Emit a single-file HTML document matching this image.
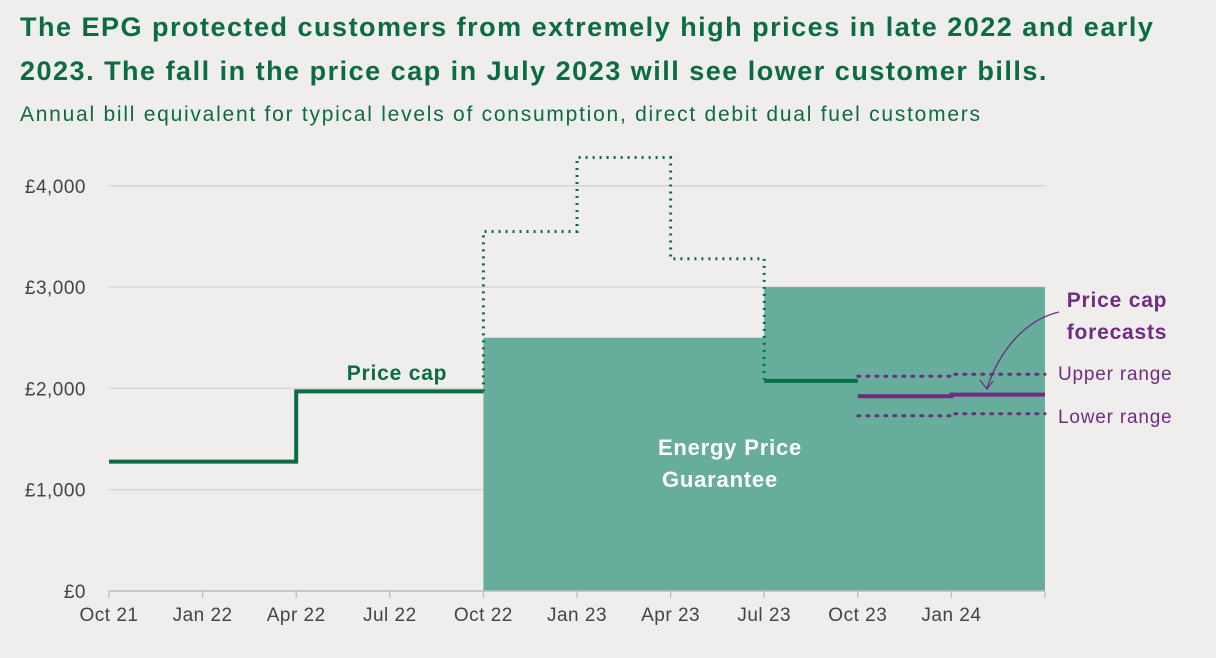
<!DOCTYPE html>
<html><head><meta charset="utf-8"><style>
body{margin:0;background:#efeeec;width:1216px;height:658px;overflow:hidden;font-family:"Liberation Sans",sans-serif}
.t{position:absolute;left:20px;color:#0b6b45;font-weight:bold;font-size:27px;letter-spacing:1.5px;line-height:44px;top:5px;margin:0;width:1200px;white-space:nowrap}
.s{position:absolute;left:20px;top:103px;color:#0b6b45;font-size:21px;letter-spacing:1.75px;white-space:nowrap}
</style></head><body>
<h1 class="t">The EPG protected customers from extremely high prices in late 2022 and early<br>2023. The fall in the price cap in July 2023 will see lower customer bills.</h1>
<div class="s">Annual bill equivalent for typical levels of consumption, direct debit dual fuel customers</div>
<svg id="c" width="1216" height="658" style="position:absolute;left:0;top:0"></svg>
<script>
const quarters=["Oct 21","Jan 22","Apr 22","Jul 22","Oct 22","Jan 23","Apr 23","Jul 23","Oct 23","Jan 24",""];
const yTicks=[0,1000,2000,3000,4000];
const yTickLabels=["£0","£1,000","£2,000","£3,000","£4,000"];
const capSolid=[1277,1277,1971,1971];
const capDotted=[3549,4279,3280];
const capJul23=[2074];
const epg=[2500,2500,2500,3000,3000,3000];
const fcCentral=[1923,1939];
const fcUpper=[2120,2140];
const fcLower=[1730,1750];
const svg=document.getElementById('c');const NS='http://www.w3.org/2000/svg';
const X=i=>109+i*93.6; const Y=v=>591-v*0.1013;
function el(t,a,p){const e=document.createElementNS(NS,t);for(const k in a)e.setAttribute(k,a[k]);(p||svg).appendChild(e);return e;}
yTicks.forEach((v,i)=>{
 if(v>0){const g=el('line',{x1:109,x2:1045,y1:Y(v),y2:Y(v),stroke:'#d4d3d1','stroke-width':1.3});
 
 }
 const t=el('text',{x:86,y:Y(v)+7,'text-anchor':'end','font-size':19,'letter-spacing':0.5,fill:'#444'});t.textContent=yTickLabels[i];
 
 
});
let d='M'+X(4)+','+Y(0);
epg.forEach((v,i)=>{d+=' L'+X(4+i)+','+Y(v)+' L'+X(5+i)+','+Y(v);});
d+=' L'+X(10)+','+Y(0)+' Z';
const a=el('path',{d:d,fill:'#66ae9b'});


const ax=el('line',{x1:109,x2:1045,y1:591,y2:591,stroke:'#bdbcba','stroke-width':1.5});


quarters.forEach((q,i)=>{
 el('line',{x1:X(i),x2:X(i),y1:591,y2:598,stroke:'#bdbcba','stroke-width':1.3});
 const t=el('text',{x:X(i),y:621,'text-anchor':'middle','font-size':19,'letter-spacing':0.5,fill:'#444'});t.textContent=q;
 
 
});
function step(vals,start,startY){let p='M'+X(start)+','+Y(startY!==undefined?startY:vals[0]);vals.forEach((v,i)=>{p+=' L'+X(start+i)+','+Y(v)+' L'+X(start+i+1)+','+Y(v);});return p;}
const green='#0b6b45',purple='#6f2c80';
const s1=el('path',{d:step(capSolid,0),fill:'none',stroke:green,'stroke-width':4});


const s2=el('path',{d:step(capDotted,4,capSolid[3])+' L'+X(7)+','+Y(capJul23[0]),fill:'none',stroke:green,'stroke-width':3,'stroke-dasharray':'2 5'});


const s3=el('path',{d:step(capJul23,7),fill:'none',stroke:green,'stroke-width':4});


const f1=el('path',{d:step(fcCentral,8),fill:'none',stroke:purple,'stroke-width':4});


const f2=el('path',{d:step(fcUpper,8),fill:'none',stroke:purple,'stroke-width':3,'stroke-dasharray':'2 7','stroke-linecap':'round'});


const f3=el('path',{d:step(fcLower,8),fill:'none',stroke:purple,'stroke-width':3,'stroke-dasharray':'2 7','stroke-linecap':'round'});


const ar=el('path',{d:'M1059,312 C1025,320 1000,350 987,388 M980,380 L987,389 L993,381',fill:'none',stroke:purple,'stroke-width':1.3});


function txt(x,y,s,o,n){const t=el('text',Object.assign({x:x,y:y,'letter-spacing':0.8},o));t.textContent=s;
 
 }
txt(397,380,'Price cap',{'text-anchor':'middle','font-size':21,'font-weight':'bold',fill:green},'price-cap-label');
txt(730,455,'Energy Price',{'text-anchor':'middle','font-size':22,'font-weight':'bold',fill:'#fff'},'epg-label');
txt(720,487,'Guarantee',{'text-anchor':'middle','font-size':22,'font-weight':'bold',fill:'#fff'},'epg-label-2');
txt(1117,307,'Price cap',{'text-anchor':'middle','font-size':21,'font-weight':'bold',fill:purple},'forecast-label');
txt(1117,339,'forecasts',{'text-anchor':'middle','font-size':21,'font-weight':'bold',fill:purple},'forecast-label-2');
txt(1058,380,'Upper range',{'font-size':19,fill:purple},'upper-range-label');
txt(1058,423,'Lower range',{'font-size':19,fill:purple},'lower-range-label');
</script>
</body></html>
